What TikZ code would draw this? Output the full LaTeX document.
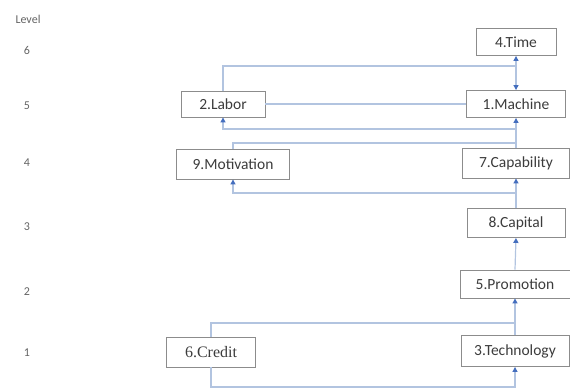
\documentclass[tikz,border=0pt]{standalone}
\usepackage{fontspec}
\setmainfont{Carlito}
\newfontfamily\serifcredit{Liberation Serif}
\usetikzlibrary{arrows.meta}
\definecolor{linecol}{RGB}{178,196,224}
\definecolor{tipcol}{RGB}{68,110,190}
\definecolor{boxcol}{RGB}{140,140,140}
\definecolor{txtcol}{RGB}{60,60,60}
\definecolor{lvlcol}{RGB}{100,100,100}
\tikzset{
  box/.style={draw=boxcol,line width=0.9pt,fill=white,inner sep=0pt,
    text=txtcol,font=\fontsize{15.5}{18}\selectfont},
  lvl/.style={text=lvlcol,font=\fontsize{12}{14}\selectfont},
  conn/.style={draw=linecol,line width=1.2pt},
  arr/.style={conn,-{Triangle[length=5pt,width=5pt,color=tipcol]}},
  arrboth/.style={conn,{Triangle[length=5pt,width=5pt,color=tipcol]}-{Triangle[length=5pt,width=5pt,color=tipcol]}},
}
\begin{document}
\begin{tikzpicture}[x=1pt,y=-1pt]
\useasboundingbox (0,0) rectangle (570,390);
% level labels
\node[lvl] (lv)  at (28,19)  {Level};
\node[lvl] (l6)  at (27,50)  {6};
\node[lvl] (l5)  at (27,106) {5};
\node[lvl] (l4)  at (27,163) {4};
\node[lvl] (l3)  at (27,227) {3};
\node[lvl] (l2)  at (27,292) {2};
\node[lvl] (l1)  at (27,353) {1};
% boxes
\node[box,minimum width=80pt,minimum height=27pt]  (time)  at (516,42)  {4.Time};
\node[box,minimum width=99pt,minimum height=27pt]  (mach)  at (516,104) {1.Machine};
\node[box,minimum width=84pt,minimum height=26pt]  (labor) at (223,104) {2.Labor};
\node[box,minimum width=113pt,minimum height=30pt] (motiv) at (233,164) {9.Motivation};
\node[box,minimum width=107pt,minimum height=30pt] (capab) at (516,163) {7.Capability};
\node[box,minimum width=98pt,minimum height=29pt]  (capit) at (516,223) {8.Capital};
\node[box,minimum width=110pt,minimum height=28pt] (promo) at (515,284) {5.Promotion};
\node[box,minimum width=108pt,minimum height=31pt] (tech)  at (515,351) {3.Technology};
\node[box,minimum width=89pt,minimum height=30pt,font=\serifcredit\fontsize{16}{18}\selectfont] (cred) at (211,352) {6.Credit};
% junctions
\coordinate (j1) at (516,66);
\coordinate (j2) at (516,129);
\coordinate (j3) at (516,143);
\coordinate (j4) at (516,193);
\coordinate (j5) at (515,323);
\coordinate (b1) at (211,387);
% connectors
\draw[conn] (labor.north) |- (j1);
\draw[conn] (labor.east) -- (mach.west);
\draw[arrboth] (mach.north) -- (time.south);
\draw[arr] (capab.north) -- (mach.south);
\draw[arr] (j2) -| (labor.south);
\draw[conn] (motiv.north) |- (j3);
\draw[arr] (capit.north) -- (capab.south);
\draw[arr] (j4) -| (motiv.south);
\draw[arr] (promo.north) -- (capit.south);
\draw[arr] (tech.north) -- (promo.south);
\draw[conn] (cred.north) |- (j5);
\draw[arr] (cred.south) -- (b1) -| (tech.south);
\end{tikzpicture}
\end{document}
